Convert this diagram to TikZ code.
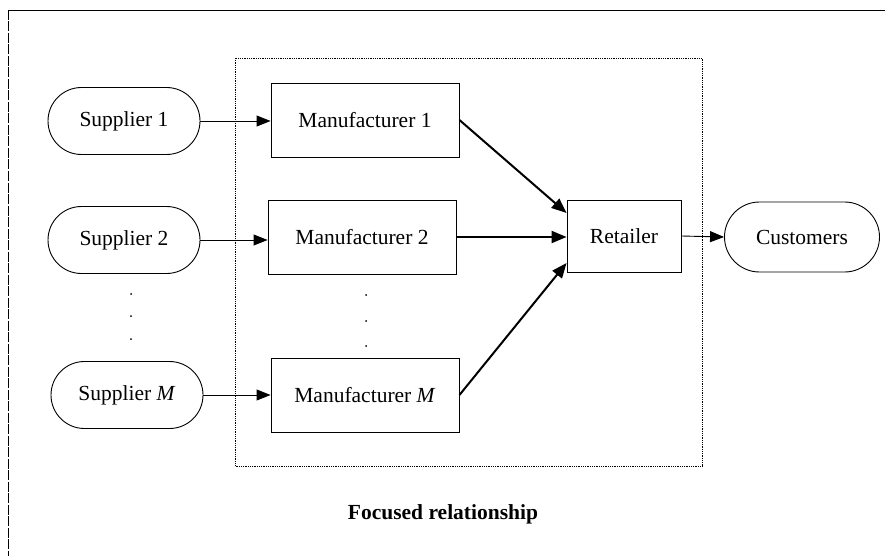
\documentclass[tikz,border=0pt]{standalone}
\usepackage{fontspec}
\setmainfont{Liberation Serif}
\usetikzlibrary{arrows.meta,shapes.misc}
\begin{document}
\begin{tikzpicture}[x=1pt,y=-1pt,
  every node/.style={font=\fontsize{21.5}{25}\selectfont, inner sep=0pt},
  pill/.style={draw, line width=0.9pt, rounded rectangle, minimum width=152pt, minimum height=67pt},
  boxn/.style={draw, line width=0.9pt, rectangle, minimum width=188pt, minimum height=74pt},
  thinarr/.style={line width=0.9pt, -{Triangle[length=14pt,width=11pt]}},
  thickarr/.style={line width=2pt, -{Triangle[length=15pt,width=12pt]}},
  dotn/.style={circle, fill, minimum size=2pt, inner sep=0pt}]
\useasboundingbox (0,0) rectangle (885,556);
% outer frame
\draw[line width=0.9pt] (8,10) -- (885,10);
\draw[line width=0.7pt, dash pattern=on 10pt off 1.5pt] (8,10) -- (8,556);
% inner dotted frame
\draw[line width=0.8pt, densely dotted] (235,58) rectangle (702,466);
% suppliers
\node[pill] (s1) at (124,121) {Supplier 1};
\node[pill] (s2) at (124,240) {Supplier 2};
\node[pill] (sm) at (127,395) {Supplier \textit{M}};
% manufacturers
\node[boxn] (m1) at (365,120) {Manufacturer 1};
\node[boxn] (m2) at (362,237) {Manufacturer 2};
\node[boxn] (mm) at (365,395) {Manufacturer \textit{M}};
% retailer & customers
\node[draw, line width=0.9pt, minimum width=114pt, minimum height=72pt] (r) at (624,236) {Retailer};
\node[pill, minimum width=155pt, minimum height=70pt] (c) at (802,237) {Customers};
% dots
\node[dotn] (d1) at (131,294) {};
\node[dotn] (d2) at (131,316) {};
\node[dotn] (d3) at (131,339) {};
\node[dotn] (e1) at (366,295) {};
\node[dotn] (e2) at (366,321) {};
\node[dotn] (e3) at (366,346) {};
% arrows
\draw[thinarr] (s1.east) -- (s1.east -| m1.west);
\draw[thinarr] (s2.east) -- (s2.east -| m2.west);
\draw[thinarr] (sm.east) -- (mm.west);
\draw[thickarr] (m1.east) -- ([yshift=23pt]r.west);
\draw[thickarr] (m2.east) -- (m2.east -| r.west);
\draw[thickarr] (mm.east) -- ([yshift=-27pt]r.west);
\draw[thinarr] (r.east) -- (c.west);
% caption
\node[font=\bfseries\fontsize{21.5}{25}\selectfont] (cap) at (443,514) {Focused relationship};
\end{tikzpicture}
\end{document}
